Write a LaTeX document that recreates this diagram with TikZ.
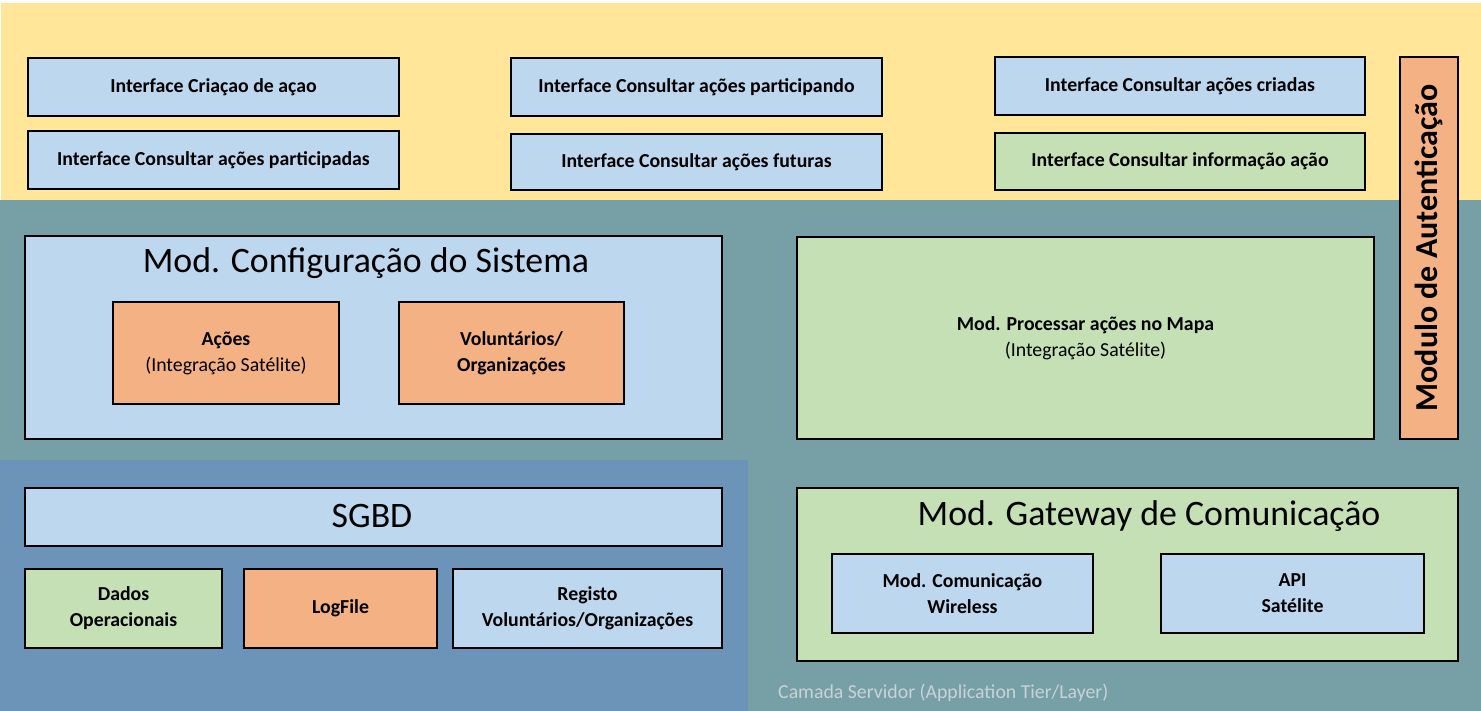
\documentclass[tikz,border=0pt]{standalone}
\usepackage{fontspec}
\setmainfont{Carlito}
\usetikzlibrary{positioning}
\definecolor{bgyellow}{HTML}{FFE699}
\definecolor{bgteal}{HTML}{779FA6}
\definecolor{bgblue}{HTML}{6C93B8}
\definecolor{lblue}{HTML}{BDD7EE}
\definecolor{lgreen}{HTML}{C5E0B4}
\definecolor{lorange}{HTML}{F4B183}
\definecolor{capgray}{HTML}{C8D3D6}
\tikzset{box/.style={draw=black, line width=2pt, anchor=north west, inner sep=0pt, align=center, font=\bfseries\fontsize{19.8}{26}\selectfont}}
\tikzstyle{bluebox}=[box, fill=lblue]
\tikzstyle{greenbox}=[box, fill=lgreen]
\tikzstyle{orangebox}=[box, fill=lorange]
\tikzstyle{title}=[font=\fontsize{35.8}{40}\selectfont]

\begin{document}
\begin{tikzpicture}[x=1pt, y=-1pt]
\useasboundingbox (0,0) rectangle (1481,711);
% layers
\fill[white] (0,0) rectangle (1481,711);
\fill[bgyellow] (1,3) rectangle (1481,200);
\fill[bgteal] (0,200) rectangle (1481,711);
\fill[bgblue] (0,460) rectangle (748,711);

% interfaces
\node[bluebox, minimum width=371pt, minimum height=58pt] (ICriacao) at (27,57) {Interface Criaçao de açao};
\node[bluebox, minimum width=371pt, minimum height=58pt] (IPartic) at (27,130) {Interface Consultar ações participadas};
\node[bluebox, minimum width=371pt, minimum height=58pt] (IParticipando) at (510,57) {Interface Consultar ações participando};
\node[bluebox, minimum width=371pt, minimum height=56pt] (IFuturas) at (510,133) {Interface Consultar ações futuras};
\node[bluebox, minimum width=370pt, minimum height=58pt] (ICriadas) at (994,56) {Interface Consultar ações criadas};
\node[greenbox, minimum width=370pt, minimum height=57pt] (IInfo) at (994,132) {Interface Consultar informação ação};

% autenticacao
\node[orangebox, minimum width=58pt, minimum height=382pt] (Auth) at (1399,56) {};
\node[rotate=90, font=\bfseries\fontsize{32}{36}\selectfont] (AuthLabel) at (Auth.center) {Modulo de Autenticação};

% configuracao
\node[bluebox, minimum width=697pt, minimum height=203pt] (Config) at (24,235) {};
\node[title] (ConfigTitle) at (366,263) {Mod. Configuração do Sistema};
\node[orangebox, minimum width=226pt, minimum height=102pt] (Acoes) at (112,301) {Ações\\\mdseries (Integração Satélite)};
\node[orangebox, minimum width=225pt, minimum height=102pt] (Volunt) at (398,301) {Voluntários/\\Organizações};

% mapa
\node[greenbox, minimum width=577pt, minimum height=202pt] (Mapa) at (796,236) {Mod. Processar ações no Mapa\\\mdseries (Integração Satélite)};

% base de dados
\node[bluebox, minimum width=697pt, minimum height=58pt] (SGBD) at (24,487) {};
\node[title] (SGBDTitle) at (372,516) {SGBD};
\node[greenbox, minimum width=197pt, minimum height=79pt] (Dados) at (24,568) {Dados\\Operacionais};
\node[orangebox, minimum width=193pt, minimum height=79pt] (Log) at (243,568) {LogFile};
\node[bluebox, minimum width=269pt, minimum height=79pt] (Registo) at (452,568) {Registo\\Voluntários/Organizações};

% gateway
\node[greenbox, minimum width=661pt, minimum height=173pt] (Gateway) at (796,487) {};
\node[title] (GatewayTitle) at (1149,516) {Mod. Gateway de Comunicação};
\node[bluebox, minimum width=261pt, minimum height=79pt] (Wireless) at (831,553) {Mod. Comunicação\\Wireless};
\node[bluebox, minimum width=263pt, minimum height=79pt] (API) at (1160,553) {API\\Satélite};

\node[anchor=west, inner sep=0pt, text=capgray, font=\fontsize{19.8}{22}\selectfont] (Caption) at (778,693) {Camada Servidor (Application Tier/Layer)};
\end{tikzpicture}
\end{document}
